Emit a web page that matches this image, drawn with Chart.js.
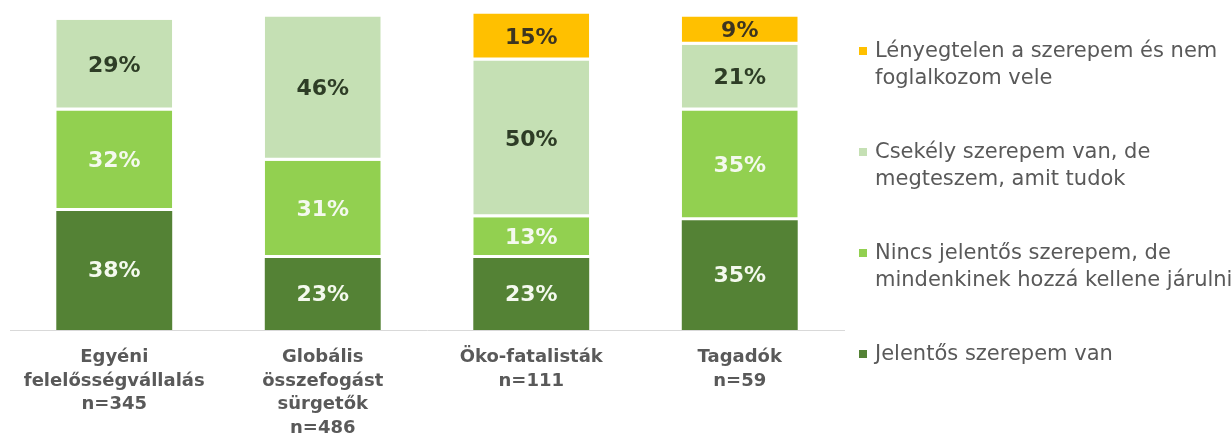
<!DOCTYPE html>
<html lang="hu">
<head>
<meta charset="utf-8">
<title>Szerep a klímaváltozásban</title>
<script src="https://cdn.jsdelivr.net/npm/chart.js@4.4.1/dist/chart.umd.min.js"></script>
<style>
  body { margin: 0; background: #fff; }
  #wrap { position: relative; width: 1231px; height: 439px; }
  #legenda { position: absolute; left: 0; top: 0; font-family: "DejaVu Sans", sans-serif; font-size: 21px; color: #595959; }
  .leg-item { position: absolute; left: 859px; width: 370px; display: flex; align-items: flex-start; line-height: 27px; white-space: nowrap; }
  .leg-item .quad { width: 8px; height: 8px; margin-top: 10px; margin-right: 8px; flex: none; }
</style>
</head>
<body>
<div id="wrap">
  <canvas id="grafico"></canvas>
  <div id="legenda"></div>
</div>
<script>
// categorias (rótulos do eixo x, em várias linhas)
const categorias = [
  ["Egyéni", "felelősségvállalás", "n=345"],
  ["Globális", "összefogást", "sürgetők", "n=486"],
  ["Öko-fatalisták", "n=111"],
  ["Tagadók", "n=59"]
];

// séries (de baixo para cima)
const nomesSeries = [
  "Jelentős szerepem van",
  ["Nincs jelentős szerepem, de", "mindenkinek hozzá kellene járulni"],
  ["Csekély szerepem van, de", "megteszem, amit tudok"],
  ["Lényegtelen a szerepem és nem", "foglalkozom vele"]
];
const jelentos   = [38, 23, 23, 35];
const nincs      = [32, 31, 13, 35];
const csekely    = [29, 46, 50, 21];
const lenyegtelen = [0, 0, 15, 9];

const cores = ["#548235", "#92d050", "#c5e0b4", "#ffc000"];
const coresTexto = ["#f4f9ee", "#f4f9ee", "#2e3d26", "#3d3520"];

const valores = [jelentos, nincs, csekely, lenyegtelen];

// rótulos de porcentagem no meio de cada segmento
const pluginRotulos = {
  id: "rotulos",
  afterDatasetsDraw(chart) {
    const ctx = chart.ctx;
    ctx.save();
    ctx.font = "bold 22px 'DejaVu Sans', sans-serif";
    ctx.textAlign = "center";
    ctx.textBaseline = "middle";
    chart.data.datasets.forEach((ds, i) => {
      const meta = chart.getDatasetMeta(i);
      meta.data.forEach((el, j) => {
        const v = ds.data[j];
        if (!v) return;
        const { x, y, base } = el.getProps(["x", "y", "base"], true);
        ctx.fillStyle = coresTexto[i];
        ctx.fillText(v + "%", x, (y + base) / 2 + 1);
      });
    });
    ctx.restore();
  }
};

const datasets = valores.map((vals, i) => ({
  label: Array.isArray(nomesSeries[i]) ? nomesSeries[i].join(" ") : nomesSeries[i],
  data: vals,
  backgroundColor: cores[i],
  borderColor: "#ffffff",
  borderSkipped: false,
  borderWidth: i === 0 ? 0 : { top: 0, right: 0, bottom: 3, left: 0 },
  barPercentage: 0.556,
  categoryPercentage: 1
}));

new Chart(document.getElementById("grafico"), {
  type: "bar",
  data: { labels: categorias, datasets },
  options: {
    responsive: true,
    maintainAspectRatio: false,
    animation: false,
    layout: { padding: { left: 10, right: 387, top: 4, bottom: 0 } },
    plugins: { legend: { display: false }, tooltip: { enabled: false } },
    scales: {
      x: {
        stacked: true,
        grid: { display: false },
        border: { display: true, color: "#d9d9d9", width: 1 },
        afterFit: (escala) => { escala.height = 109; },
        ticks: {
          color: "#595959",
          padding: 8,
          maxRotation: 0,
          autoSkip: false,
          font: { family: "'DejaVu Sans', sans-serif", size: 18, weight: "bold", lineHeight: 1.3 }
        }
      },
      y: { stacked: true, display: false, min: 0, max: 104 }
    }
  },
  plugins: [pluginRotulos]
});

// legenda à direita (ordem invertida, como no original)
const legenda = document.getElementById("legenda");
[3, 2, 1, 0].forEach((i, pos) => {
  const item = document.createElement("div");
  item.className = "leg-item";
  item.style.top = (37 + pos * 101) + "px";
  const linhas = Array.isArray(nomesSeries[i]) ? nomesSeries[i] : [nomesSeries[i]];
  item.innerHTML = `<span class="quad" style="background:${cores[i]}"></span><span>${linhas.join("<br>")}</span>`;
  legenda.appendChild(item);
});
</script>
</body>
</html>
